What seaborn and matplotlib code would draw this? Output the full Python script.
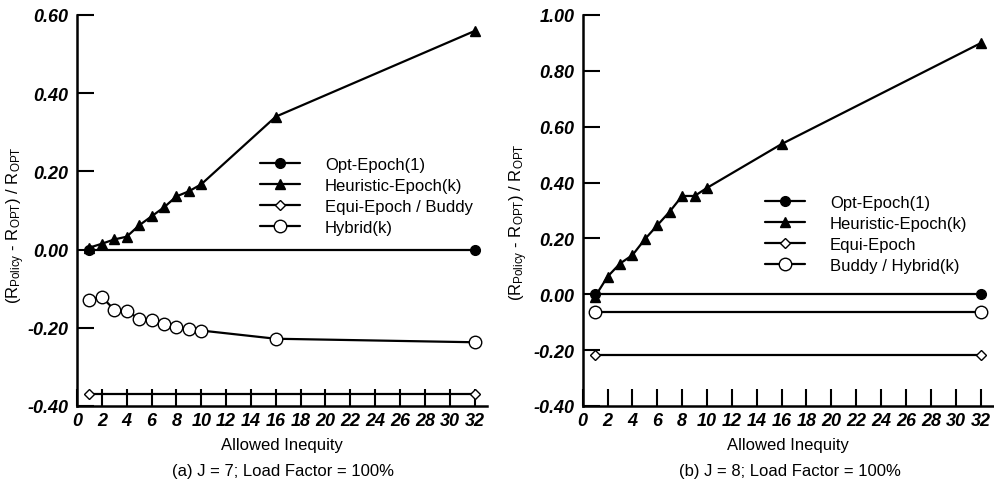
import numpy as np
import matplotlib
matplotlib.use('Agg')
import matplotlib.pyplot as plt
import seaborn as sns

# Data
# Panel (a): J = 7
a_opt_x = [1, 32]
a_opt_y = [0.0, 0.0]
a_heur_x = [1, 2, 3, 4, 5, 6, 7, 8, 9, 10, 16, 32]
a_heur_y = [0.005, 0.015, 0.026, 0.033, 0.062, 0.085, 0.108, 0.136, 0.149, 0.167, 0.340, 0.559]
a_equi_x = [1, 32]
a_equi_y = [-0.370, -0.370]
a_hyb_x = [1, 2, 3, 4, 5, 6, 7, 8, 9, 10, 16, 32]
a_hyb_y = [-0.128, -0.121, -0.154, -0.157, -0.177, -0.179, -0.191, -0.197, -0.204, -0.207, -0.228, -0.237]

# Panel (b): J = 8
b_opt_x = [1, 32]
b_opt_y = [0.0, 0.0]
b_heur_x = [1, 2, 3, 4, 5, 6, 7, 8, 9, 10, 16, 32]
b_heur_y = [-0.008, 0.063, 0.110, 0.140, 0.197, 0.247, 0.296, 0.352, 0.352, 0.381, 0.538, 0.899]
b_equi_x = [1, 32]
b_equi_y = [-0.217, -0.217]
b_hyb_x = [1, 32]
b_hyb_y = [-0.065, -0.065]

a_labels = ['Opt-Epoch(1)', 'Heuristic-Epoch(k)', 'Equi-Epoch / Buddy', 'Hybrid(k)']
b_labels = ['Opt-Epoch(1)', 'Heuristic-Epoch(k)', 'Equi-Epoch', 'Buddy / Hybrid(k)']
captions = ['(a) J = 7; Load Factor = 100%', '(b) J = 8; Load Factor = 100%']

sns.set_theme(style='ticks', rc={'text.color': 'black', 'axes.labelcolor': 'black',
                                 'axes.edgecolor': 'black', 'xtick.color': 'black',
                                 'ytick.color': 'black'})
plt.rcParams['font.family'] = ['Liberation Sans', 'DejaVu Sans']
plt.rcParams['mathtext.fontset'] = 'custom'
plt.rcParams['mathtext.rm'] = 'Liberation Sans'
plt.rcParams['mathtext.it'] = 'Liberation Sans:italic'

fig = plt.figure(figsize=(9.95, 4.89), dpi=100)
ax1 = fig.add_axes([0.0774, 0.1677, 0.412, 0.7996])
ax2 = fig.add_axes([0.5856, 0.1677, 0.4124, 0.7996])

styles = [
    dict(marker='o', markersize=7, markerfacecolor='black'),
    dict(marker='^', markersize=7, markerfacecolor='black'),
    dict(marker='D', markersize=5, markerfacecolor='white'),
    dict(marker='o', markersize=9, markerfacecolor='white'),
]


def draw(ax, series, labels, ylim, yticks, legend_pos, caption, cap_x, ylab_pos):
    for (x, y), lab, st in zip(series, labels, styles):
        sns.lineplot(x=x, y=y, ax=ax, color='black', linewidth=1.6, label=lab,
                     markeredgecolor='black', markeredgewidth=1.0, **st)
    ax.set_xlim(0, 33)
    ax.set_ylim(*ylim)
    ax.set_xticks(np.arange(0, 33, 2))
    ax.set_yticks(yticks)
    ax.set_yticklabels(['%.2f' % v for v in yticks])
    for s in ['top', 'right']:
        ax.spines[s].set_visible(False)
    for s in ['left', 'bottom']:
        ax.spines[s].set_linewidth(1.8)
    ax.tick_params(axis='x', direction='in', length=12, width=1.5, pad=4, labelsize=13)
    ax.tick_params(axis='y', direction='in', length=12, width=1.5, pad=6, labelsize=13)
    for t in ax.get_xticklabels() + ax.get_yticklabels():
        t.set_fontweight('bold')
        t.set_fontstyle('italic')
    ax.set_xlabel('Allowed Inequity', fontsize=12, labelpad=6)
    ax.set_ylabel(r'(R$_\mathrm{Policy}$ - R$_\mathrm{OPT}$) / R$_\mathrm{OPT}$', fontsize=12)
    ax.yaxis.set_label_coords(*ylab_pos)
    ax.legend(loc='center left', bbox_to_anchor=legend_pos, frameon=False, fontsize=12,
              handlelength=2.4, handletextpad=1.5, labelspacing=0.36, borderpad=0,
              borderaxespad=0)
    fig.text(cap_x, 0.035, caption, ha='center', va='center', fontsize=12)


draw(ax1, [(a_opt_x, a_opt_y), (a_heur_x, a_heur_y), (a_equi_x, a_equi_y), (a_hyb_x, a_hyb_y)],
     a_labels, (-0.4, 0.6), [-0.4, -0.2, 0.0, 0.2, 0.4, 0.6], (0.446, 0.537), captions[0], 0.284,
     (-0.122, 0.465))
draw(ax2, [(b_opt_x, b_opt_y), (b_heur_x, b_heur_y), (b_equi_x, b_equi_y), (b_hyb_x, b_hyb_y)],
     b_labels, (-0.4, 1.0), [-0.4, -0.2, 0.0, 0.2, 0.4, 0.6, 0.8, 1.0], (0.444, 0.441), captions[1], 0.794,
     (-0.128, 0.473))

fig.savefig('out.png', dpi=100)
